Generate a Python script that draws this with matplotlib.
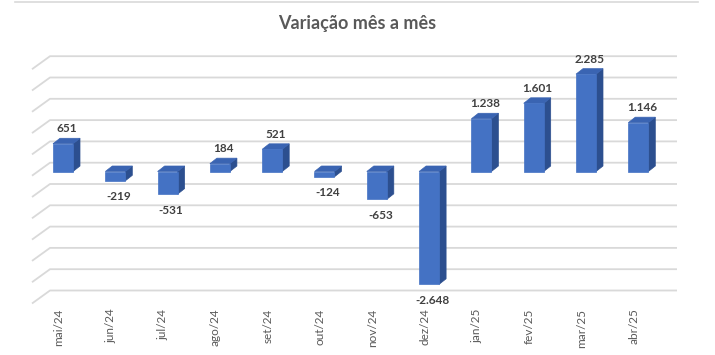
import matplotlib
matplotlib.use("Agg")
import matplotlib.pyplot as plt
from matplotlib.patches import Polygon

categories = ["mai/24", "jun/24", "jul/24", "ago/24", "set/24", "out/24",
              "nov/24", "dez/24", "jan/25", "fev/25", "mar/25", "abr/25"]
values = [651, -219, -531, 184, 521, -124, -653, -2648, 1238, 1601, 2285, 1146]
grid_values = list(range(-3000, 2501, 500))
title = "Variação mês a mês"

plt.rcParams['font.family'] = ['Lato', 'DejaVu Sans']

W, H, DPI = 715, 355, 100
fig = plt.figure(figsize=(W / DPI, H / DPI), dpi=DPI)
ax = fig.add_axes([0, 0, 1, 1])
ax.set_axis_off()

# pixel geometry of the plot (x0: first bar centre, step between bars, zero line, px per unit)
x0_px, step_px, zero_px, px_per_unit = 63.0, 52.3, 171.5, 21.3 / 500
ax.set_xlim(-x0_px / step_px, (W - x0_px) / step_px)
ax.set_ylim((zero_px - H) / px_per_unit, zero_px / px_per_unit)

def ux(px):  # pixels -> x data units
    return px / step_px

def uy(px):  # pixels -> y data units
    return px / px_per_unit

half_w = ux(10)
dx, dy = ux(7), uy(5.5)
grid_dy = uy(8.8)
grid_left, grid_right = ux(50 - x0_px), ux(677 - x0_px)
slant_dx, slant_dy = ux(18), uy(13)

grid_color = "#d9d9d9"
for g in grid_values:
    yg = g + grid_dy
    ax.plot([grid_left - slant_dx, grid_left, grid_right],
            [yg - slant_dy, yg, yg], color=grid_color, lw=1.3, zorder=1,
            solid_capstyle="butt")

front_c, side_c, top_c = "#4472C4", "#2C4F8F", "#3A64B2"
for i, v in enumerate(values):
    xl, xr = i - half_w, i + half_w
    lo, hi = min(0, v), max(0, v)
    z = 3
    # side face
    ax.add_patch(Polygon([(xr, lo), (xr + dx, lo + dy), (xr + dx, hi + dy), (xr, hi)],
                         closed=True, facecolor=side_c, edgecolor=side_c, lw=0.5, zorder=z))
    # top face
    ax.add_patch(Polygon([(xl, hi), (xl + dx, hi + dy), (xr + dx, hi + dy), (xr, hi)],
                         closed=True, facecolor=top_c, edgecolor=top_c, lw=0.5, zorder=z))
    # front face
    ax.bar(i, v, width=2 * half_w, color=front_c, edgecolor=front_c, lw=0.5, zorder=z + 1)

    label = f"{v:,}".replace(",", ".")
    if v >= 0:
        ax.text(i + dx / 2, v + uy(15), label, ha="center", va="center",
                fontsize=8.5, fontweight="bold", color="#404040", zorder=5)
    else:
        ax.text(i + dx / 2, v - uy(16), label, ha="center", va="center",
                fontsize=8.5, fontweight="bold", color="#404040", zorder=5)

# category labels, rotated
label_top = grid_values[0] + grid_dy - uy(18)
for i, c in enumerate(categories):
    ax.text(i - ux(4.5), label_top, c, rotation=90, ha="center", va="top",
            fontsize=8.5, color="#595959")

# title
fig.text(357 / W, 1 - 23 / H, title, ha="center", va="center",
         fontsize=13, fontweight="bold", color="#595959")

# chart border line at top
fig.add_artist(plt.Line2D([15 / W, 698 / W], [1 - 1.5 / H, 1 - 1.5 / H],
                          color=grid_color, lw=1.2))

fig.savefig("out.png", dpi=DPI, facecolor="white")
